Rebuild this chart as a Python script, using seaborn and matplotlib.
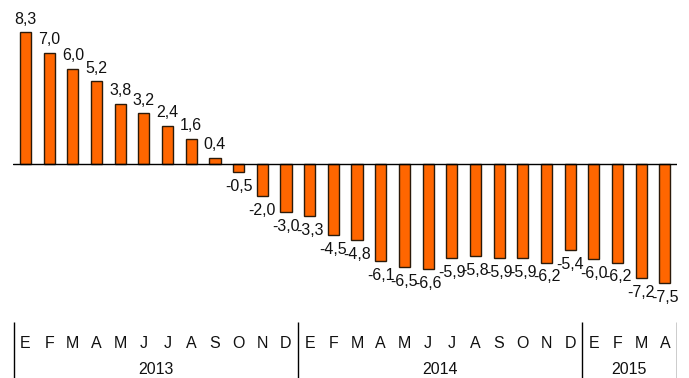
import pandas as pd
import matplotlib
matplotlib.use("Agg")
import matplotlib.pyplot as plt
import seaborn as sns

# Monthly values, Jan 2013 - Apr 2015
months = ["E", "F", "M", "A", "M", "J", "J", "A", "S", "O", "N", "D",
          "E", "F", "M", "A", "M", "J", "J", "A", "S", "O", "N", "D",
          "E", "F", "M", "A"]
values = [8.3, 7.0, 6.0, 5.2, 3.8, 3.2, 2.4, 1.6, 0.4, -0.5, -2.0, -3.0,
          -3.3, -4.5, -4.8, -6.1, -6.5, -6.6, -5.9, -5.8, -5.9, -5.9, -6.2, -5.4,
          -6.0, -6.2, -7.2, -7.5]
years = ["2013", "2014", "2015"]
year_months = [12, 12, 4]

df = pd.DataFrame({"pos": range(len(values)), "value": values})

sns.set_style("white")
plt.rcParams["font.family"] = ["Liberation Sans", "DejaVu Sans"]
FS = 11.5
TXT = "#111111"

W, H = 689, 378
fig = plt.figure(figsize=(W / 100, H / 100), dpi=100)
left, right = 12.5 / W, 676.7 / W
ax = fig.add_axes([left, 1 - 300 / H, right - left, 300 / H])

sns.barplot(data=df, x="pos", y="value", color="#FF6600", width=0.47,
            edgecolor="#2b1a0a", linewidth=1.0, saturation=1, ax=ax)
ax.set_xlim(-0.55, 27.5)
ax.set_ylim(-8.56, 10.32)
ax.axhline(0, color="black", linewidth=1)
ax.set_axis_off()

for i, v in enumerate(values):
    txt = f"{v:.1f}".replace(".", ",")
    if v >= 0:
        ax.annotate(txt, (i, v), xytext=(0, 4), textcoords="offset points",
                    ha="center", va="bottom", fontsize=FS, color=TXT)
    else:
        ax.annotate(txt, (i, v), xytext=(0, -5), textcoords="offset points",
                    ha="center", va="top", fontsize=FS, color=TXT)

# category axis below
cax = fig.add_axes([left, 0, right - left, 56 / H])
cax.set_xlim(-0.55, 27.5)
cax.set_ylim(0, 1)
cax.set_axis_off()
for i, m in enumerate(months):
    cax.text(i, 0.62, m, ha="center", va="center", fontsize=FS, color=TXT)
start = 0
bounds = [-0.5]
for y, n in zip(years, year_months):
    cax.text(start + (n - 1) / 2, 0.15, y, ha="center", va="center",
             fontsize=FS, color=TXT)
    start += n
    bounds.append(start - 0.5)
cax.vlines(bounds, 0, 1, color="black", linewidth=1)

fig.savefig("out.png", dpi=100)
